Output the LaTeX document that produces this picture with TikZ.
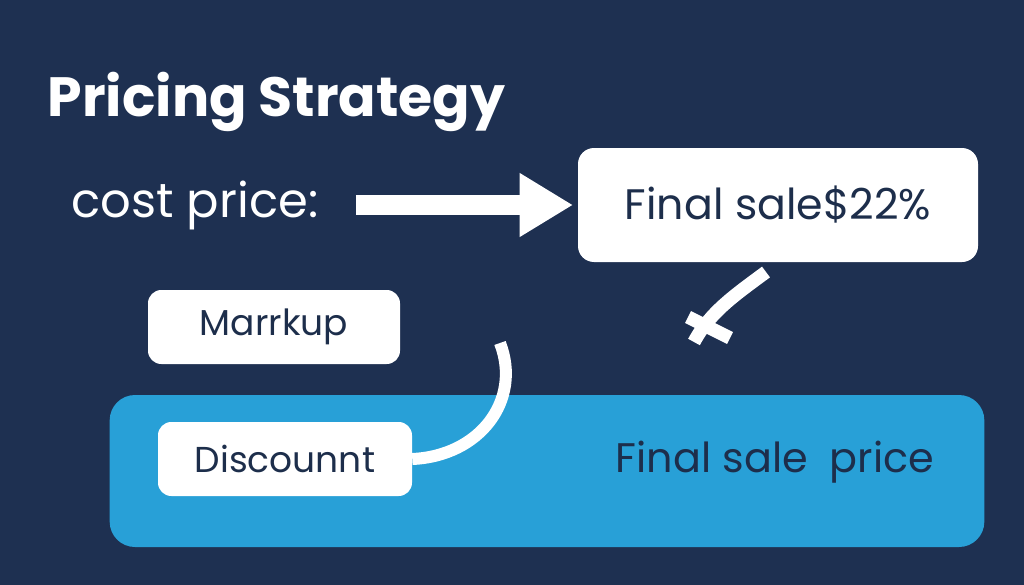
\documentclass[tikz,border=0pt]{standalone}
\usepackage{fontspec}
\setmainfont{Poppins}
\usetikzlibrary{arrows.meta}
\definecolor{navy}{HTML}{1E3051}
\definecolor{skyblue}{HTML}{28A0D7}
\definecolor{ink}{HTML}{1D2E4B}

\begin{document}
\begin{tikzpicture}[x=0.75pt,y=-0.75pt,
    card/.style={fill=white,rounded corners=10pt,inner sep=0pt,text=ink},
    cardtext/.style={font=\fontsize{#1}{#1}\selectfont},
    link/.style={draw=white,line width=9pt}]
    % background
    \useasboundingbox (0,0) rectangle (1024,585);
    \fill[navy] (0,0) rectangle (1024,585);
    % headings
    \node[anchor=base west,text=white,font=\fontsize{41.5}{41.5}\selectfont\bfseries]
          (title) at (43,117) {Pricing Strategy};
    \node[text=white,font=\fontsize{36}{36}\selectfont,inner sep=0pt]
          (cost) at (195,205) {cost price:};
    % boxes
    \node[card,minimum width=300pt,minimum height=85.5pt,rounded corners=12pt,
          cardtext=32] (fsale) at (778,205) {Final sale\$22\%};
    \node[fill=skyblue,rounded corners=19pt,minimum width=656pt,minimum height=114pt]
          (band) at (547,471) {};
    \node[text=ink,cardtext=31,inner sep=0pt] (fprice) at (775,462) {Final sale\ \ price};
    \node[card,minimum width=189pt,minimum height=55.5pt,cardtext=27]
          (markup) at (274,327) {Marrkup};
    \node[card,minimum width=190.5pt,minimum height=55.5pt,cardtext=27]
          (disc) at (285,459) {Discounnt};
    % connectors
    \coordinate (bend) at (500,343);
    \coordinate (tail) at (766,272);
    \coordinate (tip) at (694,342);
    \draw[line width=15pt,draw=white,shorten <=28pt,shorten >=3.5pt,
          -{Triangle[length=40pt,width=45pt]}]
          (cost.east) -- (fsale.west);
    \draw[link] (bend) .. controls (522,400) and (480,456) .. (disc.east);
    \draw[draw=white,line width=10pt]
          (tail) .. controls (735,295) and (710,312) .. (tip);
    \draw[draw=white,line width=10pt] (688,317) -- (730,338);
\end{tikzpicture}
\end{document}
